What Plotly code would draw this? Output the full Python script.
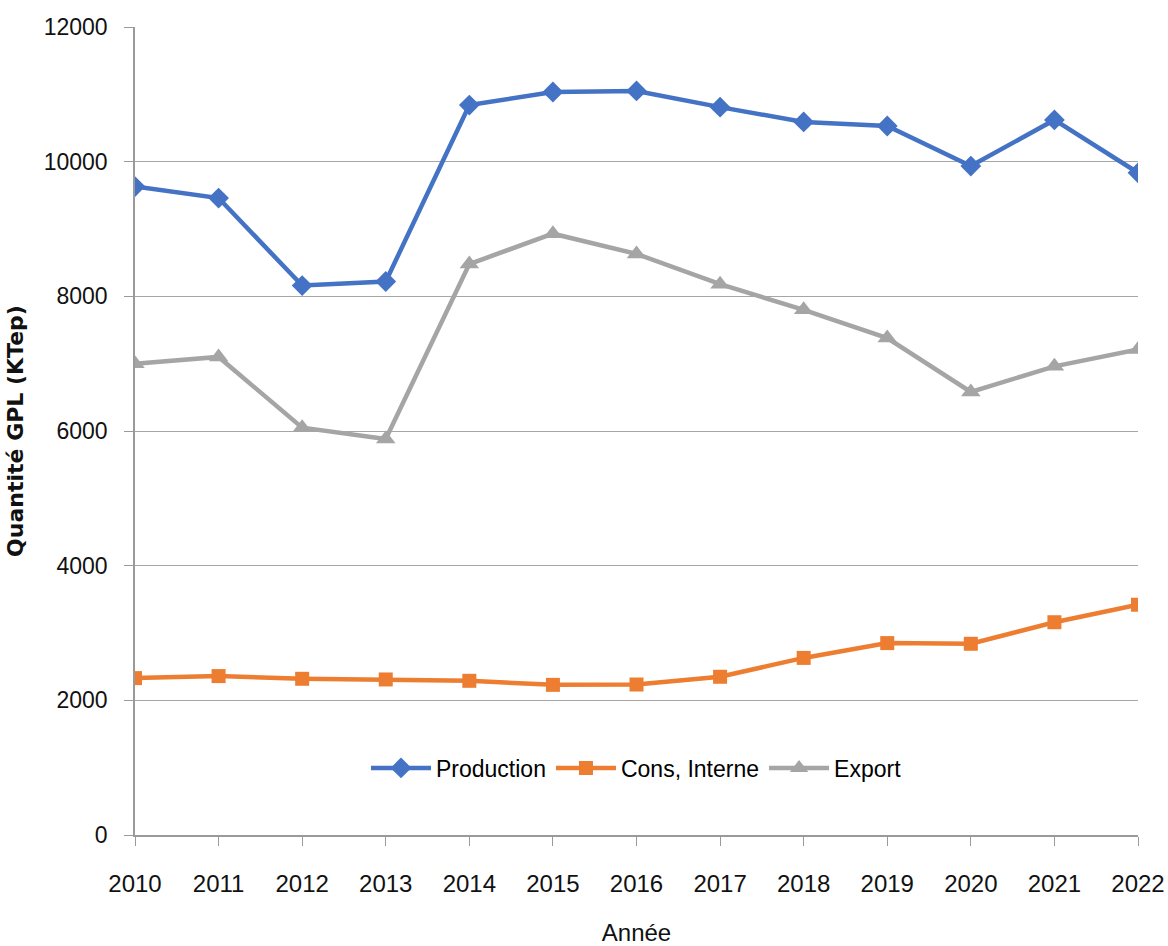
import plotly.graph_objects as go

years = [2010, 2011, 2012, 2013, 2014, 2015, 2016, 2017, 2018, 2019, 2020, 2021, 2022]
production = [9630, 9460, 8160, 8220, 10840, 11035, 11050, 10810, 10590, 10530, 9935, 10620, 9835]
cons_interne = [2330, 2360, 2320, 2310, 2290, 2230, 2235, 2350, 2630, 2850, 2840, 3160, 3420]
export = [7000, 7100, 6050, 5880, 8480, 8930, 8630, 8180, 7800, 7380, 6580, 6960, 7210]
y_ticks = [0, 2000, 4000, 6000, 8000, 10000, 12000]

SANS = "Liberation Sans, Arial, sans-serif"

series = [
    ("Production", production, "#4472C4", "diamond", 16),
    ("Cons, Interne", cons_interne, "#ED7D31", "square", 14),
    ("Export", export, "#A5A5A5", "triangle-up", 17),
]

fig = go.Figure()
for name, values, color, symbol, size in series:
    fig.add_trace(go.Scatter(
        x=years, y=values, name=name, mode="lines+markers",
        line=dict(color=color, width=4.5),
        marker=dict(symbol=symbol, size=size, color=color),
    ))

fig.update_layout(
    width=1168, height=946,
    margin=dict(l=135, r=30, t=27, b=111),
    paper_bgcolor="white", plot_bgcolor="white",
    font=dict(family=SANS, size=22, color="#111111"),
    showlegend=True,
    legend=dict(
        orientation="h", x=0.5, xanchor="center", y=0.083, yanchor="middle",
        font=dict(family=SANS, size=23, color="#000000"),
        bgcolor="rgba(0,0,0,0)", itemwidth=60, tracegroupgap=0,
    ),
    xaxis=dict(
        range=[2010, 2022], tickvals=years, ticktext=[str(y) for y in years],
        showgrid=False, showline=True, linecolor="#9a9a9a", linewidth=1.5,
        ticks="outside", ticklen=9, tickcolor="#9a9a9a",
        ticklabelstandoff=17, automargin=False,
        tickfont=dict(family=SANS, size=24, color="#111111"),
        title=dict(text="Année", font=dict(family=SANS, size=24, color="#111111"), standoff=40),
        zeroline=False,
    ),
    yaxis=dict(
        range=[0, 12000], tickvals=y_ticks, ticktext=[str(v) for v in y_ticks],
        showgrid=True, gridcolor="#a6a6a6", gridwidth=1,
        showline=True, linecolor="#9a9a9a", linewidth=1.5,
        ticks="outside", ticklen=9, tickcolor="#9a9a9a",
        ticklabelstandoff=12, automargin=False,
        tickfont=dict(family=SANS, size=23, color="#111111"),
        title=dict(text="<b>Quantité GPL (KTep)</b>",
                   font=dict(family="DejaVu Sans, sans-serif", size=22, color="#111111"),
                   standoff=14),
        zeroline=False,
    ),
)

fig.write_html("out.html")
